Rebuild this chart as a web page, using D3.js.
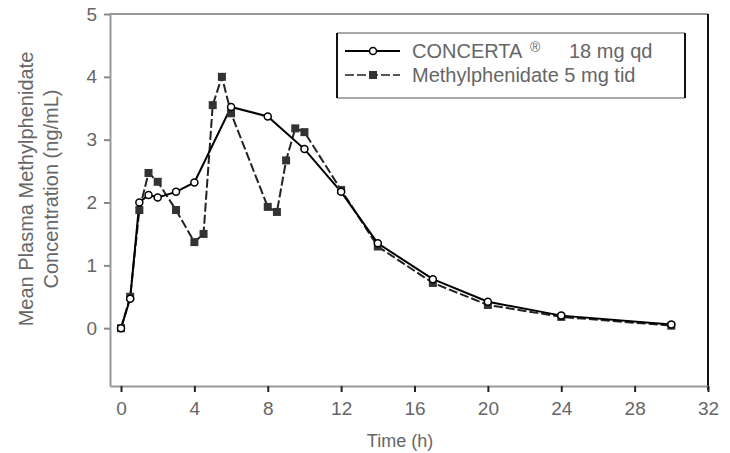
<!DOCTYPE html>
<html>
<head>
<meta charset="utf-8">
<script src="https://cdn.jsdelivr.net/npm/d3@7"></script>
<style>
  body { margin: 0; background: #fff; }
  text { font-family: "Liberation Sans", Arial, sans-serif; fill: #666; }
</style>
</head>
<body>
<div id="chart"></div>
<script>
// CONCERTA 18 mg qd
const concertaTime = [0, 0.5, 1, 1.5, 2, 3, 4, 6, 8, 10, 12, 14, 17, 20, 24, 30];
const concertaConc = [0, 0.47, 2.0, 2.12, 2.08, 2.17, 2.32, 3.52, 3.37, 2.85, 2.17, 1.35, 0.78, 0.42, 0.2, 0.06];

// methylphenidate 5 mg tid
const mphTime = [0, 0.5, 1, 1.5, 2, 3, 4, 4.5, 5, 5.5, 6, 8, 8.5, 9, 9.5, 10, 12, 14, 17, 20, 24, 30];
const mphConc = [0, 0.5, 1.88, 2.47, 2.33, 1.88, 1.37, 1.5, 3.55, 4.0, 3.42, 1.93, 1.85, 2.67, 3.18, 3.12, 2.2, 1.3, 0.72, 0.37, 0.18, 0.04];

const xTicks = [0, 4, 8, 12, 16, 20, 24, 28, 32];
const yTicks = [0, 1, 2, 3, 4, 5];

const width = 730, height = 453;
const plot = { left: 110, right: 708, top: 14, bottom: 386 };

const svg = d3.select("#chart").append("svg")
    .attr("width", width)
    .attr("height", height);

const x = d3.scaleLinear().domain([-0.6, 32]).range([plot.left, plot.right]);
const y = d3.scaleLinear().domain([-0.92, 5]).range([plot.bottom, plot.top]);

// frame: top grey, right black
svg.append("line")
    .attr("x1", plot.left).attr("x2", plot.right)
    .attr("y1", plot.top).attr("y2", plot.top)
    .attr("stroke", "#999").attr("stroke-width", 2);
svg.append("line")
    .attr("x1", plot.right).attr("x2", plot.right)
    .attr("y1", plot.top).attr("y2", plot.bottom + 4)
    .attr("stroke", "#111").attr("stroke-width", 2);

// y axis
const yAxis = svg.append("g")
    .attr("transform", `translate(${plot.left},0)`)
    .call(d3.axisLeft(y).tickValues(yTicks).tickFormat(d3.format("d")).tickSize(6).tickSizeOuter(0));
yAxis.select(".domain").attr("stroke", "#999").attr("stroke-width", 2);
yAxis.selectAll(".tick line").attr("stroke", "#888").attr("stroke-width", 2);
yAxis.selectAll(".tick text")
    .attr("x", -13)
    .style("font-size", "19px")
    .style("font-family", "Liberation Sans, Arial, sans-serif")
    .attr("fill", "#777");

// x axis
const xAxis = svg.append("g")
    .attr("transform", `translate(0,${plot.bottom})`)
    .call(d3.axisBottom(x).tickValues(xTicks).tickFormat(d3.format("d")).tickSize(6).tickSizeOuter(0));
xAxis.select(".domain").attr("stroke", "#999").attr("stroke-width", 2);
xAxis.selectAll(".tick line").attr("stroke", "#222").attr("stroke-width", 2);
xAxis.selectAll(".tick text")
    .attr("y", 16)
    .style("font-size", "19px")
    .style("font-family", "Liberation Sans, Arial, sans-serif")
    .attr("fill", "#777");

// axis titles
svg.append("text")
    .attr("x", 400)
    .attr("y", 447)
    .attr("text-anchor", "middle")
    .style("font-size", "18px")
    .text("Time (h)");

const yTitle = svg.append("text")
    .attr("transform", "translate(33,189) rotate(-90)")
    .attr("text-anchor", "middle")
    .style("font-size", "20px");
yTitle.append("tspan").attr("x", 0).attr("dy", 0).text("Mean Plasma Methylphenidate");
yTitle.append("tspan").attr("x", 0).attr("dy", 25).text("Concentration (ng/mL)");

// series
const concerta = concertaTime.map((t, i) => ({ t, c: concertaConc[i] }));
const mph = mphTime.map((t, i) => ({ t, c: mphConc[i] }));

const line = d3.line().x(d => x(d.t)).y(d => y(d.c));

svg.append("path")
    .datum(mph)
    .attr("d", line)
    .attr("fill", "none")
    .attr("stroke", "#222")
    .attr("stroke-width", 2)
    .attr("stroke-dasharray", "9,3");

svg.append("path")
    .datum(concerta)
    .attr("d", line)
    .attr("fill", "none")
    .attr("stroke", "#000")
    .attr("stroke-width", 2);

svg.append("g")
    .selectAll("rect")
    .data(mph)
    .enter()
    .append("rect")
    .attr("x", d => x(d.t) - 4)
    .attr("y", d => y(d.c) - 4)
    .attr("width", 8)
    .attr("height", 8)
    .attr("fill", "#333");

svg.append("g")
    .selectAll("circle")
    .data(concerta)
    .enter()
    .append("circle")
    .attr("cx", d => x(d.t))
    .attr("cy", d => y(d.c))
    .attr("r", 3.5)
    .attr("fill", "#fff")
    .attr("stroke", "#000")
    .attr("stroke-width", 1.5);

// legend
const legend = svg.append("g").attr("transform", "translate(337,33)");
legend.append("line").attr("x1", 0).attr("x2", 348).attr("y1", 0).attr("y2", 0)
    .attr("stroke", "#aaa").attr("stroke-width", 2);
legend.append("line").attr("x1", 0).attr("x2", 348).attr("y1", 65).attr("y2", 65)
    .attr("stroke", "#aaa").attr("stroke-width", 2);
legend.append("line").attr("x1", 0).attr("x2", 0).attr("y1", 0).attr("y2", 65)
    .attr("stroke", "#111").attr("stroke-width", 2);
legend.append("line").attr("x1", 348).attr("x2", 348).attr("y1", 0).attr("y2", 65)
    .attr("stroke", "#111").attr("stroke-width", 2);

const row1 = legend.append("g").attr("transform", "translate(0,18)");
row1.append("line").attr("x1", 8).attr("x2", 63).attr("y1", 0).attr("y2", 0)
    .attr("stroke", "#000").attr("stroke-width", 2);
row1.append("circle").attr("cx", 36).attr("cy", 0).attr("r", 3.5)
    .attr("fill", "#fff").attr("stroke", "#000").attr("stroke-width", 1.5);
row1.append("text").attr("x", 75).attr("y", 7).style("font-size", "20px").text("CONCERTA");
row1.append("text").attr("x", 193).attr("y", 1).style("font-size", "14px").text("®");
row1.append("text").attr("x", 232).attr("y", 7).style("font-size", "20px").text("18 mg qd");

const row2 = legend.append("g").attr("transform", "translate(0,42)");
row2.append("line").attr("x1", 8).attr("x2", 63).attr("y1", 0).attr("y2", 0)
    .attr("stroke", "#555").attr("stroke-width", 2).attr("stroke-dasharray", "9,3");
row2.append("rect").attr("x", 32).attr("y", -4).attr("width", 8).attr("height", 8)
    .attr("fill", "#333");
row2.append("text").attr("x", 75).attr("y", 7).style("font-size", "20px").text("Methylphenidate 5 mg tid");
</script>
</body>
</html>
